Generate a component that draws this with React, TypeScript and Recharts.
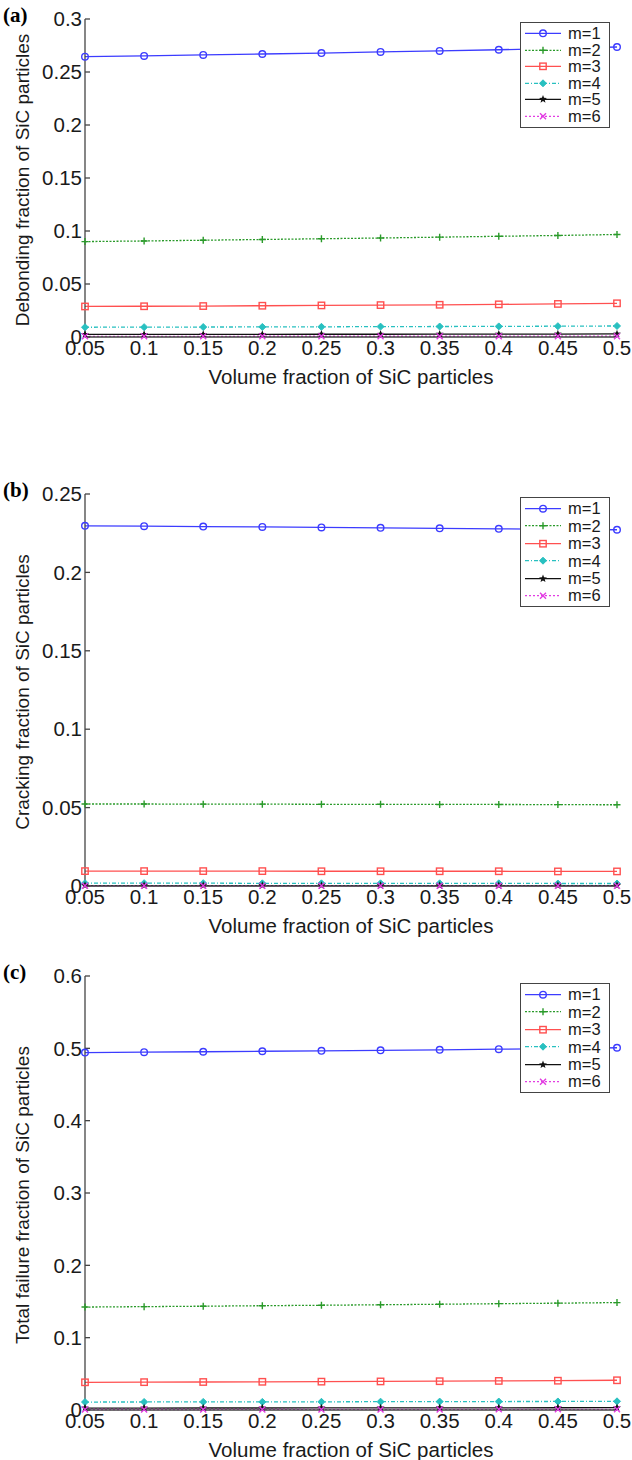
import React from "react";
import { LineChart, Line, XAxis, YAxis } from "recharts";

const X_VALUES = [0.05, 0.1, 0.15, 0.2, 0.25, 0.3, 0.35, 0.4, 0.45, 0.5];
const X_TICKS = [0.05, 0.1, 0.15, 0.2, 0.25, 0.3, 0.35, 0.4, 0.45, 0.5];
const SERIES_NAMES = ["m=1", "m=2", "m=3", "m=4", "m=5", "m=6"];

// (a) debonding fraction
const DEBOND_M1 = [0.2645, 0.2652, 0.2661, 0.267, 0.2679, 0.2689, 0.2699, 0.271, 0.2722, 0.2736];
const DEBOND_M2 = [0.09, 0.0906, 0.0913, 0.092, 0.0927, 0.0934, 0.0942, 0.095, 0.0958, 0.0967];
const DEBOND_M3 = [0.0288, 0.029, 0.0292, 0.0295, 0.0298, 0.0301, 0.0304, 0.0308, 0.0312, 0.0318];
const DEBOND_M4 = [0.0092, 0.0093, 0.0094, 0.0095, 0.0096, 0.0098, 0.0099, 0.01, 0.0102, 0.0104];
const DEBOND_M5 = [0.0024, 0.0024, 0.0025, 0.0025, 0.0026, 0.0026, 0.0027, 0.0027, 0.0028, 0.0029];
const DEBOND_M6 = [0.0006, 0.0006, 0.0006, 0.0007, 0.0007, 0.0007, 0.0007, 0.0008, 0.0008, 0.0008];
const DEBOND_TICKS = [0, 0.05, 0.1, 0.15, 0.2, 0.25, 0.3];

// (b) cracking fraction
const CRACK_M1 = [0.2297, 0.2295, 0.2292, 0.229, 0.2287, 0.2284, 0.2281, 0.2278, 0.2275, 0.2272];
const CRACK_M2 = [0.0523, 0.0523, 0.0522, 0.0522, 0.0521, 0.0521, 0.052, 0.052, 0.0519, 0.0518];
const CRACK_M3 = [0.0095, 0.0095, 0.0095, 0.0095, 0.0094, 0.0094, 0.0094, 0.0094, 0.0093, 0.0093];
const CRACK_M4 = [0.0018, 0.0018, 0.0018, 0.0017, 0.0017, 0.0017, 0.0017, 0.0017, 0.0016, 0.0016];
const CRACK_M5 = [0.0003, 0.0003, 0.0003, 0.0003, 0.0003, 0.0003, 0.0003, 0.0003, 0.0003, 0.0003];
const CRACK_M6 = [0.0001, 0.0001, 0.0001, 0.0001, 0.0001, 0.0001, 0.0001, 0.0001, 0.0001, 0.0001];
const CRACK_TICKS = [0, 0.05, 0.1, 0.15, 0.2, 0.25];

// (c) total failure fraction
const TOTAL_M1 = [0.4942, 0.4947, 0.4953, 0.496, 0.4966, 0.4973, 0.498, 0.4988, 0.4997, 0.5008];
const TOTAL_M2 = [0.1423, 0.1429, 0.1435, 0.1442, 0.1448, 0.1455, 0.1462, 0.147, 0.1477, 0.1485];
const TOTAL_M3 = [0.0383, 0.0385, 0.0387, 0.039, 0.0392, 0.0395, 0.0398, 0.0402, 0.0405, 0.0411];
const TOTAL_M4 = [0.011, 0.0111, 0.0112, 0.0112, 0.0113, 0.0115, 0.0116, 0.0117, 0.0118, 0.012];
const TOTAL_M5 = [0.0027, 0.0027, 0.0028, 0.0028, 0.0029, 0.0029, 0.003, 0.003, 0.0031, 0.0032];
const TOTAL_M6 = [0.0007, 0.0007, 0.0007, 0.0008, 0.0008, 0.0008, 0.0008, 0.0009, 0.0009, 0.0009];
const TOTAL_TICKS = [0, 0.1, 0.2, 0.3, 0.4, 0.5, 0.6];

const STYLES = [
  { color: "#3c3cff", dash: undefined, marker: "circle" },
  { color: "#2a9a2a", dash: "2 1.5", marker: "plus" },
  { color: "#ff5050", dash: undefined, marker: "square" },
  { color: "#28c0c0", dash: "4 2 1 2", marker: "diamond" },
  { color: "#111111", dash: undefined, marker: "star" },
  { color: "#e23ce2", dash: "2 2", marker: "cross" },
];

const FONT = "'Liberation Sans', Arial, sans-serif";
const AXIS = "#444";
const TEXT = "#1a1a1a";

function Marker({ cx, cy, kind, color }: { cx: number; cy: number; kind: string; color: string }) {
  if (cx == null || cy == null) return null;
  switch (kind) {
    case "circle":
      return <circle cx={cx} cy={cy} r={3.3} fill="none" stroke={color} strokeWidth={1.4} />;
    case "plus":
      return (
        <path d={`M${cx - 3.5},${cy}H${cx + 3.5}M${cx},${cy - 3.5}V${cy + 3.5}`} stroke={color} strokeWidth={1.4} />
      );
    case "square":
      return <rect x={cx - 3.2} y={cy - 3.2} width={6.4} height={6.4} fill="none" stroke={color} strokeWidth={1.4} />;
    case "diamond":
      return (
        <path d={`M${cx},${cy - 3.5}L${cx + 3.5},${cy}L${cx},${cy + 3.5}L${cx - 3.5},${cy}Z`} fill={color} stroke={color} />
      );
    case "star": {
      const pts: string[] = [];
      for (let i = 0; i < 10; i++) {
        const r = i % 2 === 0 ? 4.2 : 1.8;
        const a = (Math.PI / 5) * i - Math.PI / 2;
        pts.push(`${cx + r * Math.cos(a)},${cy + r * Math.sin(a)}`);
      }
      return <polygon points={pts.join(" ")} fill={color} />;
    }
    default:
      return (
        <path d={`M${cx - 3},${cy - 3}L${cx + 3},${cy + 3}M${cx - 3},${cy + 3}L${cx + 3},${cy - 3}`} stroke={color} strokeWidth={1.4} />
      );
  }
}

function LegendBox({ top, rowH }: { top: number; rowH: number }) {
  return (
    <div
      style={{
        position: "absolute",
        left: 520,
        top,
        width: 88,
        border: `1px solid ${AXIS}`,
        background: "#fff",
        padding: "2px 0",
        fontFamily: FONT,
        fontSize: 16.5,
        color: TEXT,
      }}
    >
      {SERIES_NAMES.map((name, i) => (
        <div key={name} style={{ height: rowH, display: "flex", alignItems: "center" }}>
          <svg width={47} height={rowH} style={{ display: "block" }}>
            <line x1={4} x2={40} y1={rowH / 2} y2={rowH / 2} stroke={STYLES[i].color} strokeWidth={1.3} strokeDasharray={STYLES[i].dash} />
            <Marker cx={22} cy={rowH / 2} kind={STYLES[i].marker} color={STYLES[i].color} />
          </svg>
          <span style={{ lineHeight: 1 }}>{name}</span>
        </div>
      ))}
    </div>
  );
}

function Panel({
  top,
  height,
  plotTop,
  plotBottom,
  series,
  yMax,
  yTicks,
  yLabel,
  tag,
  legendTop,
  legendRow,
}: {
  top: number;
  height: number;
  plotTop: number;
  plotBottom: number;
  series: number[][];
  yMax: number;
  yTicks: number[];
  yLabel: string;
  tag: string;
  legendTop: number;
  legendRow: number;
}) {
  const rows = X_VALUES.map((x, i) => {
    const r: Record<string, number> = { x };
    series.forEach((s, k) => (r[`m${k + 1}`] = s[i]));
    return r;
  });
  const xAxisH = height - plotBottom;
  const tickStyle = { fontSize: 20.5, fill: TEXT, fontFamily: FONT };

  return (
    <div style={{ position: "absolute", left: 0, top, width: 632, height }}>
      <LineChart width={632} height={height} data={rows} margin={{ top: plotTop, right: 15, bottom: 0, left: 0 }}>
        <XAxis
          xAxisId="b"
          dataKey="x"
          type="number"
          domain={[0.05, 0.5]}
          ticks={X_TICKS}
          height={xAxisH}
          tickSize={-5}
          tickMargin={8}
          tick={tickStyle}
          stroke={AXIS}
          strokeWidth={1.3}
          interval={0}
          label={(p: any) => {
            const vb = p.viewBox;
            return (
              <text x={vb.x + vb.width / 2} y={vb.y + 47} textAnchor="middle" fontSize={20.5} fontFamily={FONT} fill={TEXT}>
                Volume fraction of SiC particles
              </text>
            );
          }}
        />
        <XAxis
          xAxisId="t"
          orientation="top"
          dataKey="x"
          type="number"
          domain={[0.05, 0.5]}
          ticks={X_TICKS}
          height={0}
          tickSize={-5}
          tickFormatter={() => ""}
          stroke={AXIS}
          strokeWidth={1.3}
        />
        <YAxis
          yAxisId="l"
          type="number"
          domain={[0, yMax]}
          ticks={yTicks}
          width={85}
          tickSize={-5}
          tickMargin={8}
          tick={tickStyle}
          stroke={AXIS}
          strokeWidth={1.3}
          interval={0}
          label={(p: any) => {
            const vb = p.viewBox;
            const cx = 22;
            const cy = vb.y + vb.height / 2 + 2;
            return (
              <text
                x={cx}
                y={cy}
                transform={`rotate(-90 ${cx} ${cy})`}
                textAnchor="middle"
                dominantBaseline="central"
                fontSize={19}
                fontFamily={FONT}
                fill={TEXT}
              >
                {yLabel}
              </text>
            );
          }}
        />
        <YAxis
          yAxisId="r"
          orientation="right"
          type="number"
          domain={[0, yMax]}
          ticks={yTicks}
          width={0}
          tickSize={-5}
          tickFormatter={() => ""}
          stroke={AXIS}
          strokeWidth={1.3}
        />
        {series.map((_, k) => (
          <Line
            key={k}
            xAxisId="b"
            yAxisId="l"
            dataKey={`m${k + 1}`}
            stroke={STYLES[k].color}
            strokeWidth={1.3}
            strokeDasharray={STYLES[k].dash}
            type="linear"
            isAnimationActive={false}
            dot={(p: any) => (
              <Marker key={`d${k}-${p.index}`} cx={p.cx} cy={p.cy} kind={STYLES[k].marker} color={STYLES[k].color} />
            )}
            activeDot={false}
          />
        ))}
      </LineChart>
      <div
        style={{
          position: "absolute",
          left: 3,
          top: plotTop - 14,
          fontFamily: "'Liberation Serif', 'Times New Roman', serif",
          fontWeight: "bold",
          fontSize: 21,
          lineHeight: 1,
        }}
      >
        {tag}
      </div>
      <LegendBox top={legendTop} rowH={legendRow} />
    </div>
  );
}

export default function App() {
  return (
    <div style={{ position: "absolute", left: 0, top: 0, width: 632, height: 1460, background: "#fff" }}>
      <Panel
        top={0}
        height={395}
        plotTop={19}
        plotBottom={337}
        series={[DEBOND_M1, DEBOND_M2, DEBOND_M3, DEBOND_M4, DEBOND_M5, DEBOND_M6]}
        yMax={0.3}
        yTicks={DEBOND_TICKS}
        yLabel="Debonding fraction of SiC particles"
        tag="(a)"
        legendTop={22}
        legendRow={16.6}
      />
      <Panel
        top={475}
        height={470}
        plotTop={19}
        plotBottom={411}
        series={[CRACK_M1, CRACK_M2, CRACK_M3, CRACK_M4, CRACK_M5, CRACK_M6]}
        yMax={0.25}
        yTicks={CRACK_TICKS}
        yLabel="Cracking fraction of SiC particles"
        tag="(b)"
        legendTop={22}
        legendRow={17.4}
      />
      <Panel
        top={955}
        height={505}
        plotTop={21}
        plotBottom={455}
        series={[TOTAL_M1, TOTAL_M2, TOTAL_M3, TOTAL_M4, TOTAL_M5, TOTAL_M6]}
        yMax={0.6}
        yTicks={TOTAL_TICKS}
        yLabel="Total failure fraction of SiC particles"
        tag="(c)"
        legendTop={28}
        legendRow={17.4}
      />
    </div>
  );
}
